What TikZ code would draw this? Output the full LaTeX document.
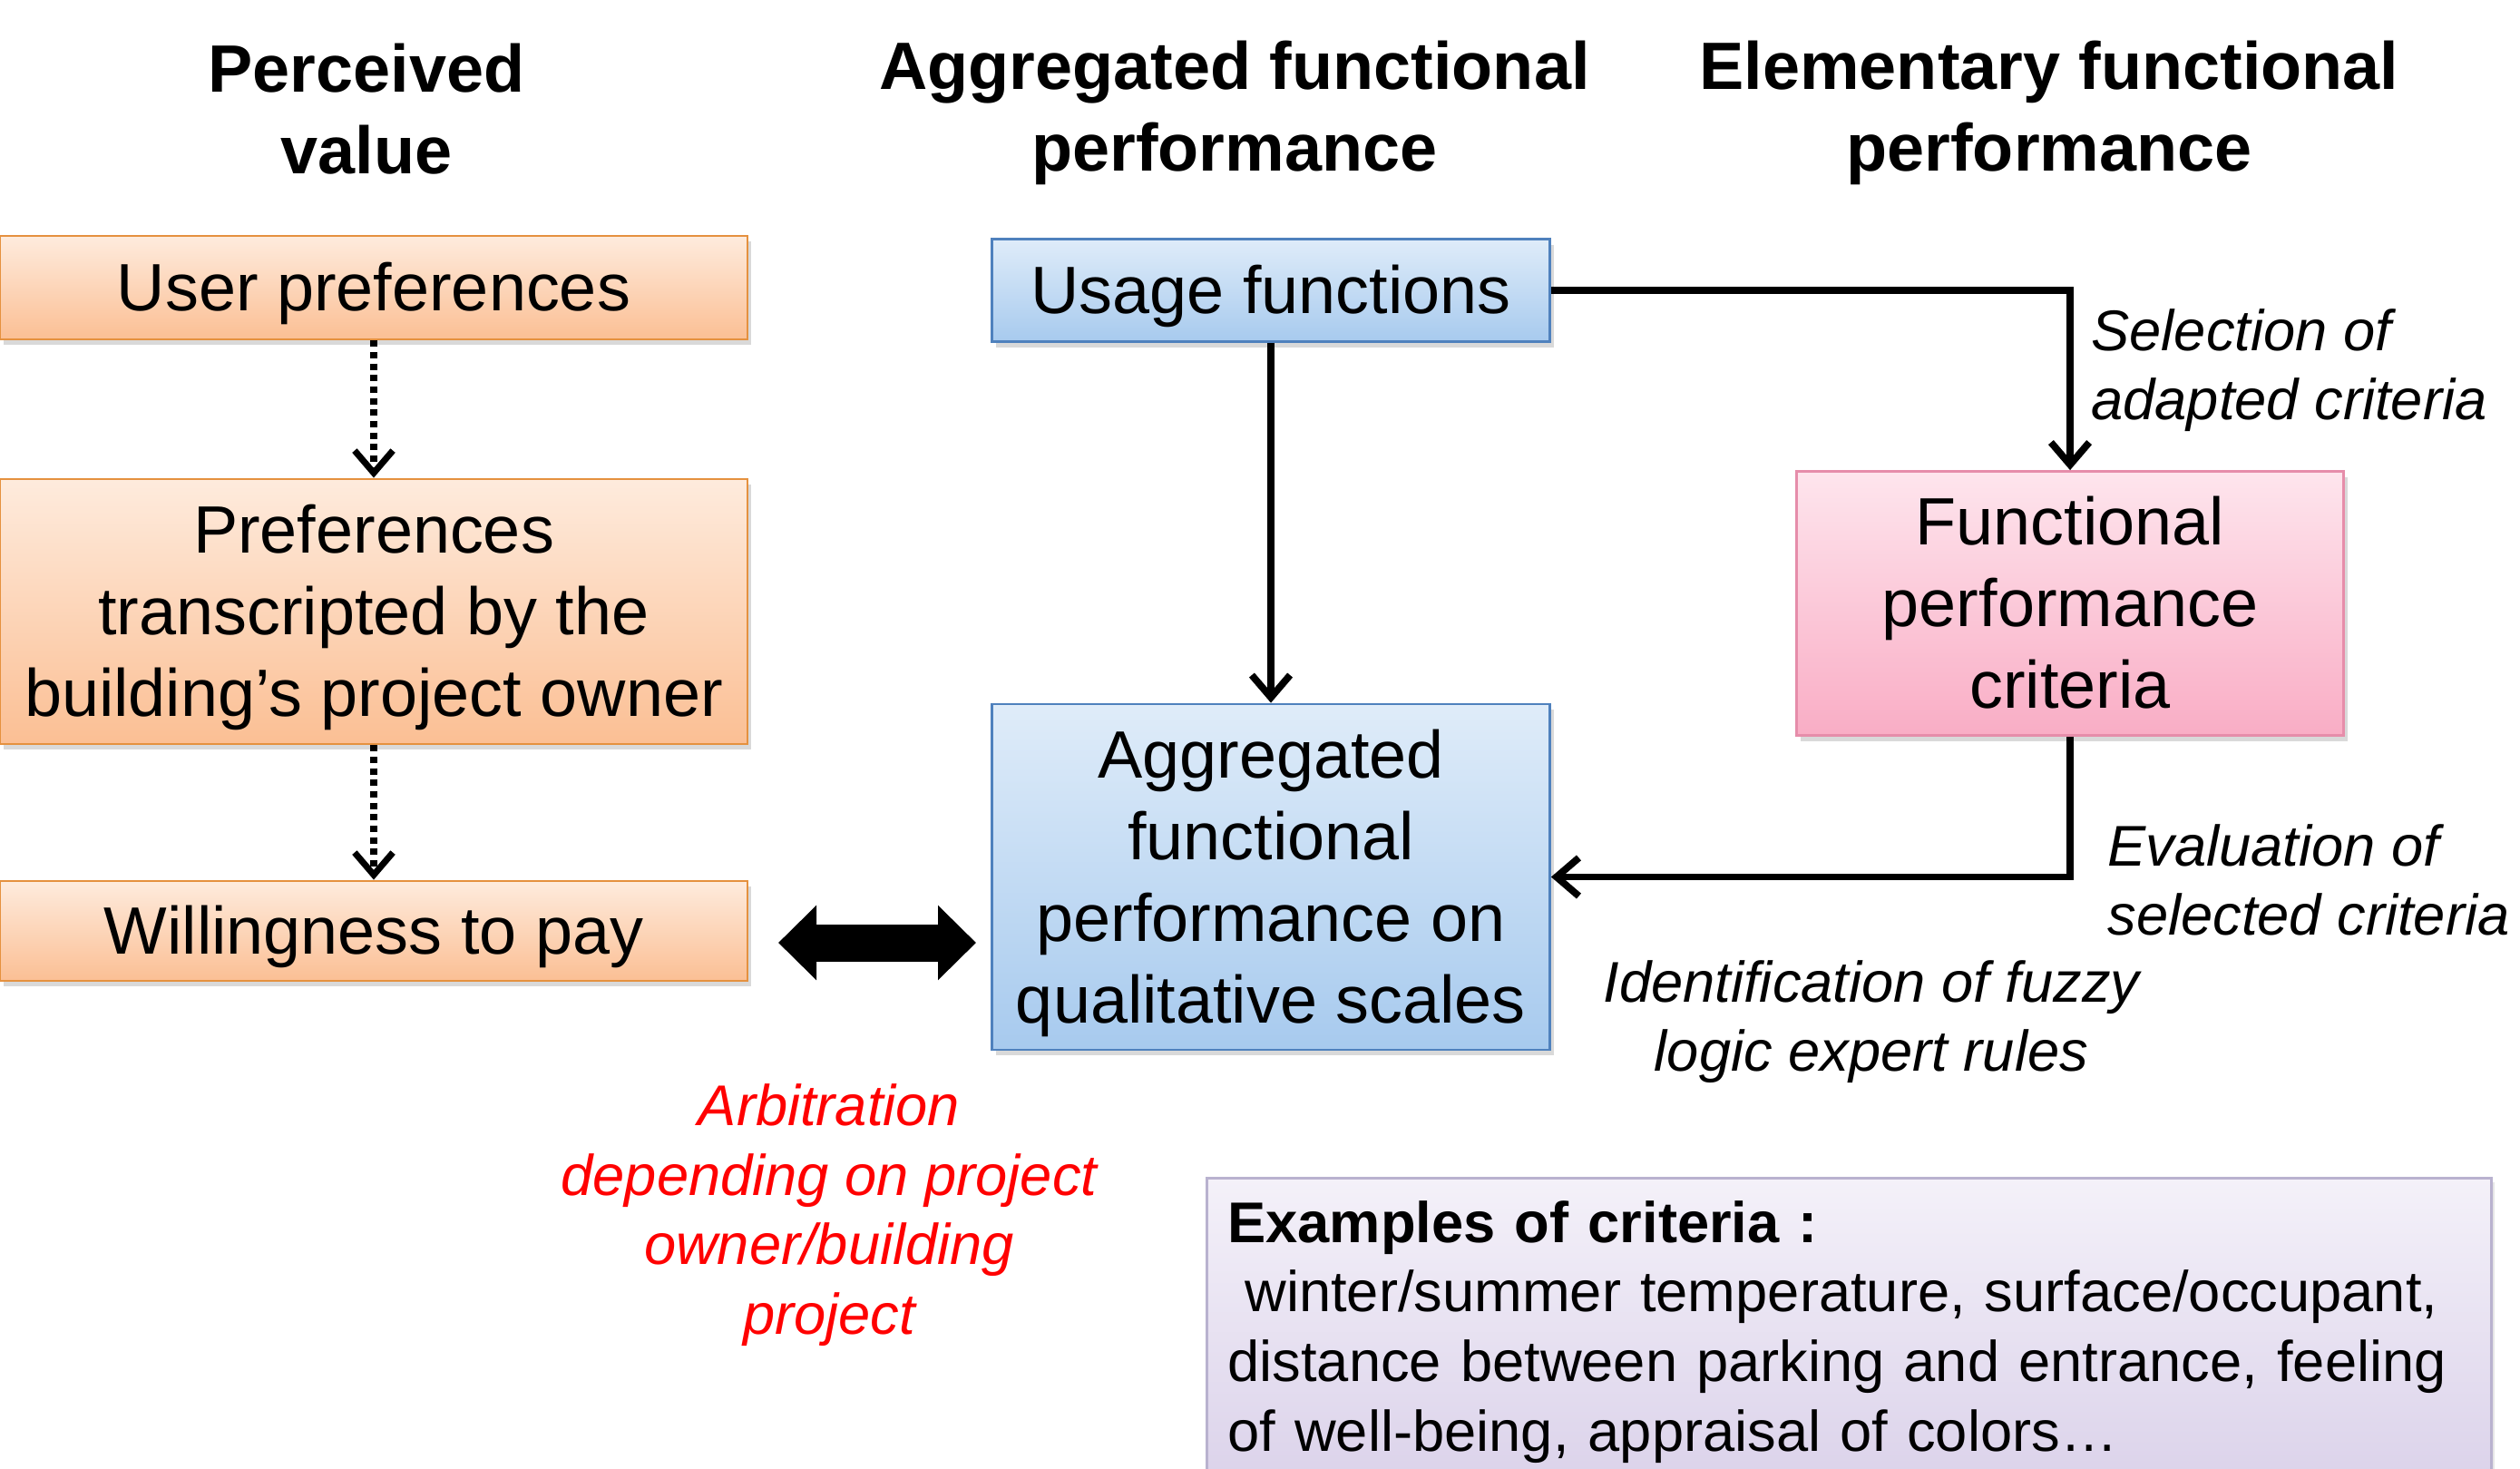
\documentclass[tikz,border=0pt]{standalone}
\usepackage{fontspec}
\setmainfont{Liberation Sans}
\usepackage{tikz}
\usetikzlibrary{arrows.meta,positioning,shadows}

\definecolor{orangetop}{HTML}{FEEBDD}
\definecolor{orangebot}{HTML}{FBBF94}
\definecolor{orangeline}{HTML}{E5913F}
\definecolor{bluetop}{HTML}{DFECF9}
\definecolor{bluebot}{HTML}{A7CAEE}
\definecolor{blueline}{HTML}{4F81BD}
\definecolor{pinktop}{HTML}{FEE5ED}
\definecolor{pinkbot}{HTML}{F9ADC5}
\definecolor{pinkline}{HTML}{E68DAA}
\definecolor{lavtop}{HTML}{F4F1F9}
\definecolor{lavbot}{HTML}{DBD2EA}
\definecolor{lavline}{HTML}{B9B2CF}

\newcommand{\boxfont}{\fontsize{21}{25.6}\selectfont}
\newcommand{\headfont}{\fontsize{21}{25.6}\selectfont\bfseries}
\newcommand{\notefont}{\fontsize{18}{21.8}\selectfont}
% struts giving every box line the height and depth of the font
\newcommand{\topstrut}{\rule{0pt}{0.905em}}
\newcommand{\botstrut}{\rule[-0.212em]{0pt}{0pt}}

\begin{document}
\begin{tikzpicture}[
    box/.style={draw, line width=0.8pt, align=center, font=\boxfont, inner sep=0pt,
        drop shadow={opacity=0.3, shadow xshift=0.04cm, shadow yshift=-0.06cm}},
    valuebox/.style={box, draw=orangeline, top color=orangetop, bottom color=orangebot, minimum width=8.24cm},
    aggbox/.style={box, draw=blueline, top color=bluetop, bottom color=bluebot, minimum width=6.15cm},
    critbox/.style={box, draw=pinkline, top color=pinktop, bottom color=pinkbot, minimum width=6.03cm},
    head/.style={align=center, font=\headfont},
    note/.style={font=\notefont\itshape},
    arr/.style={-{Straight Barb[length=7pt,width=12pt]}, line width=2.2pt},
    dotarr/.style={arr, line width=2pt, dash pattern=on 2pt off 1.6pt},
    bigarr/.style={{Triangle[length=0.42cm,width=0.8cm]}-{Triangle[length=0.42cm,width=0.8cm]}, line width=0.41cm}
]
    \useasboundingbox (0,0) rectangle (27.78,16.18);

    % Column titles
    \node[head] (hvalue) at (4.04,14.98) {Perceived\\value};
    \node[head] (hagg) at (13.61,14.94) {Aggregated functional\\performance};
    \node[head] (helem) at (22.59,14.94) {Elementary functional\\performance};

    % Perceived value
    \node[valuebox, minimum height=1.14cm] (user) at (4.12,13.01) {\topstrut User preferences\botstrut};
    \node[valuebox, minimum height=2.92cm] (owner) at (4.12,9.44) {\topstrut Preferences\\transcripted by the\\building’s project owner\botstrut};
    \node[valuebox, minimum height=1.10cm] (pay) at (4.12,5.92) {\topstrut Willingness to pay\botstrut};
    \draw[dotarr] (user) -- (owner);
    \draw[dotarr] (owner) -- (pay);

    % Aggregated and elementary performance
    \node[aggbox, minimum height=1.13cm] (usage) at (14.01,12.98) {\topstrut Usage functions\botstrut};
    \node[aggbox, minimum height=3.81cm] (agg) at (14.01,6.515) {\topstrut Aggregated\\functional\\performance on\\qualitative scales\botstrut};
    \node[critbox, minimum height=2.91cm] (crit) at (22.82,9.53) {\topstrut Functional\\performance\\criteria\botstrut};
    \draw[arr] (usage) -- (agg);
    \draw[arr] (usage.east) -| (crit.north);
    \draw[arr] (crit.south) |- (agg.east);
    \node[note, anchor=west, align=left] (select) at (22.93,12.10) {Selection of\\adapted criteria};
    \node[note, anchor=west, align=left] (eval) at (23.11,6.48) {Evaluation of\\selected criteria};
    \node[note, align=center] (fuzzy) at (20.63,4.92) {Identification of fuzzy\\logic expert rules};

    % Arbitration
    \coordinate (arbl) at (8.58,5.79);
    \coordinate (arbr) at (10.76,5.79);
    \draw[bigarr] (arbl) -- (arbr);
    \node[note, align=center, text=red] (arbit) at (9.14,2.79) {Arbitration\\depending on project\\owner/building\\project};

    % Examples
    \node[draw=lavline, line width=0.8pt, top color=lavtop, bottom color=lavbot, anchor=north west,
        align=left, text width=13.7cm, inner xsep=0.23cm, inner ysep=0.25cm, font=\notefont,
        drop shadow={opacity=0.2, shadow xshift=0.04cm, shadow yshift=-0.05cm}] (examples) at (13.29,3.21)
        {\textbf{Examples of criteria :}\\
         \hspace*{0.3em}winter/summer temperature, surface/occupant,\\
         distance between parking and entrance, feeling\\
         of well-being, appraisal of colors…};
\end{tikzpicture}
\end{document}
